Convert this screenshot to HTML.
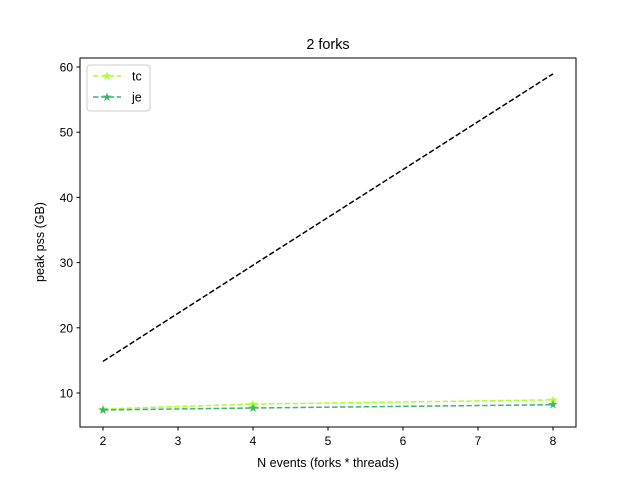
<!DOCTYPE html>
<html><head><meta charset="utf-8"><style>body{margin:0;background:#fff}svg{display:block;font-family:"Liberation Sans","DejaVu Sans",sans-serif}</style></head>
<body>
<svg id="chart" width="640" height="480">
<rect x="0" y="0" width="640" height="480" fill="#fff"/>
<g id="plot"></g>
<rect x="80" y="58" width="496" height="369" fill="none" stroke="#000" stroke-width="1"/>
<text x="328" y="49" font-size="14.4" text-anchor="middle">2 forks</text>
<text x="328" y="467" font-size="12.5" text-anchor="middle">N events (forks * threads)</text>
<text transform="translate(44,242) rotate(-90)" font-size="12.5" text-anchor="middle">peak pss (GB)</text>
<g>
<rect x="87" y="65" width="63" height="46" rx="3" fill="#fff" fill-opacity="0.8" stroke="#ccc"/>
<g>
<line x1="93" y1="76" x2="121" y2="76" stroke="#adff2f" stroke-width="1.5" stroke-dasharray="5.5,2.4"/>
<text x="107" y="80" font-size="12" fill="#adff2f" text-anchor="middle">★</text>
<text x="132" y="80.5" font-size="12.5">tc</text></g>
<g>
<line x1="93" y1="97" x2="121" y2="97" stroke="#3cb371" stroke-width="1.5" stroke-dasharray="5.5,2.4"/>
<text x="107" y="101" font-size="12" fill="#3cb371" text-anchor="middle">★</text>
<text x="132" y="101.5" font-size="12.5">je</text></g>
</g>
</svg>
<script>
const xCats = [2, 4, 8];
const tcVals = [7.55, 8.3, 8.95];
const jeVals = [7.4, 7.7, 8.2];
const refVals = [14.85, 29.6, 58.95];
const xTicks = [2, 3, 4, 5, 6, 7, 8];
const yTicks = [10, 20, 30, 40, 50, 60];

const NS = "http://www.w3.org/2000/svg";
const g = document.getElementById('plot');
const xs = v => 103 + (v - 2) * 75;
const ys = v => 393 - (v - 10) * 6.52;
function mk(t, a) { const e = document.createElementNS(NS, t); for (const k in a) e.setAttribute(k, a[k]); g.appendChild(e); return e; }

xTicks.forEach(v => {
  const l = mk('line', {x1: xs(v), x2: xs(v), y1: 427, y2: 430.5, stroke: '#000'});
  
  
  const t = mk('text', {x: xs(v), y: 445, 'font-size': 12, 'text-anchor': 'middle'});
  t.textContent = v;
  
  
});
yTicks.forEach(v => {
  const l = mk('line', {x1: 76.5, x2: 80, y1: ys(v), y2: ys(v), stroke: '#000'});
  
  
  const t = mk('text', {x: 73, y: ys(v) + 4.5, 'font-size': 12, 'text-anchor': 'end'});
  t.textContent = v;
  
  
});

function series(vals, color, name, markers) {
  const p = mk('polyline', {points: vals.map((v, i) => xs(xCats[i]) + ',' + ys(v)).join(' '), fill: 'none', stroke: color, 'stroke-width': 1.5, 'stroke-dasharray': '5.5,2.4'});
  
  
  if (markers) vals.forEach((v, i) => {
    const t = mk('text', {x: xs(xCats[i]), y: ys(v) + 4, 'font-size': 12, fill: color, 'text-anchor': 'middle'});
    t.textContent = '★';
    
    
  });
}
series(refVals, '#000', 'reference', false);
series(tcVals, '#adff2f', 'tc', true);
series(jeVals, '#3cb371', 'je', true);
</script>
</body></html>
